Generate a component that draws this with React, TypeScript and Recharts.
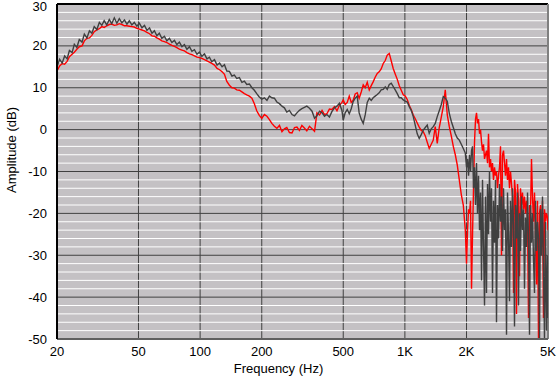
import React from "react";
import { LineChart, Line, XAxis, YAxis, CartesianGrid, Label } from "recharts";

const freqsLow = [20, 20.6, 21.2, 21.8, 22.4, 23.0, 23.7, 24.3, 25, 25.7, 26.5, 27.2, 28, 28.8, 29.6, 30.4, 31.3, 32.2, 33.1, 34.0, 35, 36.0, 37, 38.1, 39.2, 40.3, 41.5, 42.7, 43.9, 45.1, 46.4, 47.7, 49.1, 50.5, 52, 53.5, 55, 56.6, 58.2, 59.8, 61.5, 63.2, 65, 66.9, 68.8, 70.8, 72.8, 74.9, 77, 79.2, 81.5, 83.8, 86.2, 88.7, 91.2, 93.8, 96.5, 99.2, 102, 105, 108, 111, 114, 117.5, 121, 124.5, 128, 131.5, 135, 139, 143, 147, 151, 155.5, 160, 164.5, 169, 174, 179, 184, 189, 194.5, 200, 206, 212, 218, 224, 230.5, 237, 244, 251, 258, 265, 273, 281, 289, 297, 305.5, 314, 323, 332, 342, 352, 362, 372, 383, 394, 405, 416, 428, 440, 453, 466, 479, 493];
const redLow = [14.0, 15.2, 15.8, 15.6, 16.3, 17.4, 18.0, 18.5, 19.2, 19.8, 20.0, 21.2, 21.8, 21.9, 22.5, 23.4, 23.8, 24.1, 24.6, 24.4, 24.8, 25.1, 25.2, 24.9, 25.0, 25.3, 25.1, 24.8, 24.8, 24.7, 24.6, 24.5, 24.2, 24.0, 23.8, 23.6, 23.2, 22.9, 22.4, 22.3, 21.9, 21.6, 21.2, 21.0, 20.8, 20.4, 20.1, 19.9, 19.6, 19.2, 19.0, 18.8, 18.4, 18.1, 17.9, 17.6, 17.3, 17.2, 17.0, 16.7, 16.4, 16.1, 15.8, 15.4, 14.6, 14.3, 13.8, 13.2, 11.5, 10.6, 10.0, 9.9, 9.5, 9.4, 9.0, 8.6, 8.3, 8.0, 7.5, 6.2, 4.5, 3.4, 2.7, 3.6, 3.2, 2.4, 1.5, 0.8, 0.3, 1.0, -0.5, 0.2, 0.5, -0.7, -0.8, 0.5, 0.6, -0.2, 1.0, 0.4, -0.3, 0.8, 0.2, -0.4, 4.0, 3.5, 4.6, 3.6, 3.8, 4.9, 4.8, 5.5, 4.5, 5.8, 6.5];
const grayLow = [15.0, 16.8, 15.9, 17.6, 16.9, 18.9, 18.4, 20.4, 19.6, 21.5, 20.9, 22.8, 21.9, 23.6, 23.0, 24.6, 23.9, 25.6, 24.9, 26.0, 25.0, 26.3, 25.3, 26.7, 25.4, 26.5, 25.5, 26.2, 25.2, 26.0, 25.0, 25.6, 24.7, 25.4, 24.3, 24.9, 23.7, 24.3, 23.0, 23.6, 22.4, 23.0, 21.8, 22.3, 21.2, 21.8, 20.8, 21.3, 20.3, 20.9, 19.8, 20.3, 19.2, 19.8, 18.7, 19.1, 18.0, 18.5, 17.5, 18.1, 16.9, 17.3, 16.2, 16.7, 15.4, 15.9, 15.0, 15.5, 14.0, 13.9, 12.8, 13.0, 12.2, 12.4, 11.3, 11.6, 10.8, 10.9, 10.0, 9.4, 8.6, 7.8, 7.3, 7.6, 7.0, 8.0, 7.6, 7.5, 6.6, 6.2, 5.6, 5.2, 4.2, 4.6, 3.6, 3.3, 4.0, 4.6, 5.0, 5.3, 5.6, 5.1, 4.4, 2.7, 3.3, 4.4, 4.0, 3.2, 3.6, 3.0, 4.3, 5.2, 5.6, 6.3, 4.5];

const freqsMid = [500, 511, 523, 535, 547, 559, 572, 585, 598, 612, 626, 640, 655, 670, 685, 700, 716, 733, 749, 766, 784, 802, 820, 839, 858, 877, 897, 918, 939, 960, 982, 1004, 1027, 1050, 1074, 1099, 1124, 1149, 1175, 1202, 1230, 1258, 1286, 1315, 1345, 1376, 1407, 1439, 1472, 1506, 1540, 1575, 1611, 1648, 1685, 1724, 1763, 1803, 1844, 1886, 1929, 1973];
const redMid = [7.1, 6.0, 6.5, 8.0, 6.5, 7.0, 8.5, 8.8, 7.5, 9.0, 10.7, 10.0, 11.3, 9.5, 10.5, 11.4, 12.5, 13.4, 13.8, 14.5, 15.8, 16.5, 17.8, 18.2, 16.4, 14.6, 13.3, 12.0, 10.5, 9.4, 8.3, 8.0, 7.2, 5.8, 4.8, 3.5, 2.6, 1.6, 0.6, -0.2, -0.5, -1.5, -3.0, -4.5, -3.5, -2.5, 0.7, -3.3, 0.5, 3.0, 5.5, 9.5, 3.5, 0.7, -1.5, -4.0, -6.0, -8.5, -12.0, -15.5, -18.0, -24.0];
const grayMid = [2.3, 4.0, 4.8, 3.8, 5.0, 6.7, 7.5, 8.0, 4.0, 2.5, 1.5, 3.5, 6.5, 7.5, 7.0, 7.6, 8.0, 8.4, 8.8, 9.5, 9.6, 10.2, 9.6, 10.8, 11.1, 10.3, 9.5, 8.6, 7.6, 7.6, 7.1, 6.8, 6.6, 5.5, 4.6, 3.1, 1.0, -1.0, -2.1, -1.2, -0.1, 0.5, 1.1, -0.9, 0.2, 0.7, 1.5, 3.1, 4.5, 6.0, 7.9, 7.5, 6.8, 3.9, 2.0, 0.5, -1.0, -2.0, -2.5, -3.5, -4.5, -5.6];

const freqsHigh = [2000, 2023, 2046, 2069, 2092, 2116, 2140, 2164, 2188, 2213, 2238, 2263, 2289, 2315, 2341, 2368, 2394, 2421, 2449, 2476, 2504, 2533, 2561, 2590, 2620, 2649, 2679, 2709, 2740, 2771, 2802, 2834, 2866, 2898, 2931, 2964, 2998, 3032, 3066, 3101, 3136, 3171, 3207, 3243, 3280, 3317, 3355, 3393, 3431, 3470, 3509, 3549, 3589, 3629, 3670, 3712, 3754, 3796, 3839, 3882, 3926, 3971, 4016, 4061, 4107, 4153, 4200, 4248, 4296, 4344, 4394, 4443, 4493, 4544, 4596, 4648, 4700, 4753, 4807, 4861, 4916, 4972, 5000];
const redHigh = [-32, -24, -19, -20, -17, -38, -25, -14, -3, 2.5, 4, 1.5, 2.5, -1, 0, -3, -5, -3.5, -7, -6, -5, -8, -1, -9, -7, -10, -8, -12, -9, -11, -10, -14, -11, -9, -4, -30, -6, -5, -8, -11, -7, -12, -9, -14, -10, -13, -16, -39, -12, -15, -44, -13, -17, -35, -14, -18, -15, -19, -16, -20, -17, -21, -45, -18, -20, -7, -16, -22, -15, -25, -37, -17, -50, -20, -18, -28, -17, -45, -19, -22, -20, -21, -24];
const grayHigh = [-9, -7, -11, -6, -10, -5, -4, -14, -9, -18, -8, -20, -11, -24, -15, -36, -12, -28, -42, -16, -39, -13, -25, -10, -22, -14, -39, -17, -27, -12, -46, -18, -26, -13, -22, -16, -29, -14, -24, -19, -49, -15, -25, -41, -17, -28, -14, -23, -47, -18, -26, -15, -42, -20, -29, -16, -24, -19, -38, -21, -28, -15, -26, -49, -18, -27, -20, -31, -39, -17, -29, -22, -26, -50, -19, -30, -16, -33, -50, -22, -48, -30, -45];

const xTicks = [20, 50, 100, 200, 500, 1000, 2000, 5000];
const xTickLabels = ["20", "50", "100", "200", "500", "1K", "2K", "5K"];
const yTicks = [-50, -40, -30, -20, -10, 0, 10, 20, 30];
const minorGrid = [-48, -46, -44, -42, -38, -36, -34, -32, -28, -26, -24, -22, -18, -16, -14, -12, -8, -6, -4, -2, 2, 4, 6, 8, 12, 14, 16, 18, 22, 24, 26, 28];
const majorGrid = [-40, -30, -20, -10, 0, 10, 20];
const verticalGrid = [50, 100, 200, 500, 1000, 2000];

const freqs = [...freqsLow, ...freqsMid, ...freqsHigh];
const redDb = [...redLow, ...redMid, ...redHigh];
const grayDb = [...grayLow, ...grayMid, ...grayHigh];
const data = freqs.map((f, i) => ({ f, red: redDb[i], gray: grayDb[i] }));

const FONT = "'Liberation Sans', Arial, sans-serif";

const YTick = (props: any) => {
  const { x, y, payload } = props;
  const yy = Math.max(y, 6);
  return (
    <text x={x} y={yy} textAnchor="end" dominantBaseline="central" fill="#000" fontSize={13} fontFamily={FONT}>
      {payload.value}
    </text>
  );
};

export default function App() {
  return (
    <div style={{ position: "absolute", left: 0, top: 0, width: 557, height: 381, background: "#fff" }}>
      <LineChart width={557} height={381} data={data} margin={{ top: 4, right: 9, bottom: 0, left: 0 }}>
        <CartesianGrid fill="#c4c1c4" fillOpacity={1} stroke="#404040" horizontal={false} verticalValues={verticalGrid} />
        <CartesianGrid stroke="#ffffff" vertical={false} horizontalValues={minorGrid} />
        <CartesianGrid stroke="#404040" vertical={false} horizontalValues={majorGrid} />
        <CartesianGrid stroke="#000000" strokeWidth={2} vertical={false} horizontalValues={[30]} />
        <CartesianGrid stroke="#808080" strokeWidth={2} horizontal={false} verticalValues={[5000]} />
        <XAxis
          dataKey="f"
          type="number"
          scale="log"
          domain={[20, 5000]}
          allowDataOverflow
          ticks={xTicks}
          interval={0}
          height={42}
          tickLine={false}
          axisLine={{ stroke: "#606060", strokeWidth: 2 }}
          tick={{ fill: "#000", fontSize: 13, fontFamily: FONT }}
          tickFormatter={(v: number) => xTickLabels[xTicks.indexOf(v)] ?? String(v)}
        >
          <Label
            content={() => (
              <text x={278.5} y={373} textAnchor="middle" fill="#000" fontSize={13} fontFamily={FONT}>
                Frequency (Hz)
              </text>
            )}
          />
        </XAxis>
        <YAxis
          type="number"
          domain={[-50, 30]}
          allowDataOverflow
          ticks={yTicks}
          interval={0}
          width={57}
          tickLine={false}
          tickMargin={4}
          axisLine={{ stroke: "#000", strokeWidth: 2 }}
          tick={<YTick />}
        >
          <Label
            content={() => (
              <text
                x={11}
                y={150}
                transform="rotate(-90 11 150)"
                textAnchor="middle"
                dominantBaseline="central"
                fill="#000"
                fontSize={13}
                fontFamily={FONT}
              >
                Amplitude (dB)
              </text>
            )}
          />
        </YAxis>
        <Line type="linear" dataKey="red" stroke="#ff0000" strokeWidth={1.4} dot={false} isAnimationActive={false} />
        <Line type="linear" dataKey="gray" stroke="#404040" strokeWidth={1.4} dot={false} isAnimationActive={false} />
      </LineChart>
    </div>
  );
}
